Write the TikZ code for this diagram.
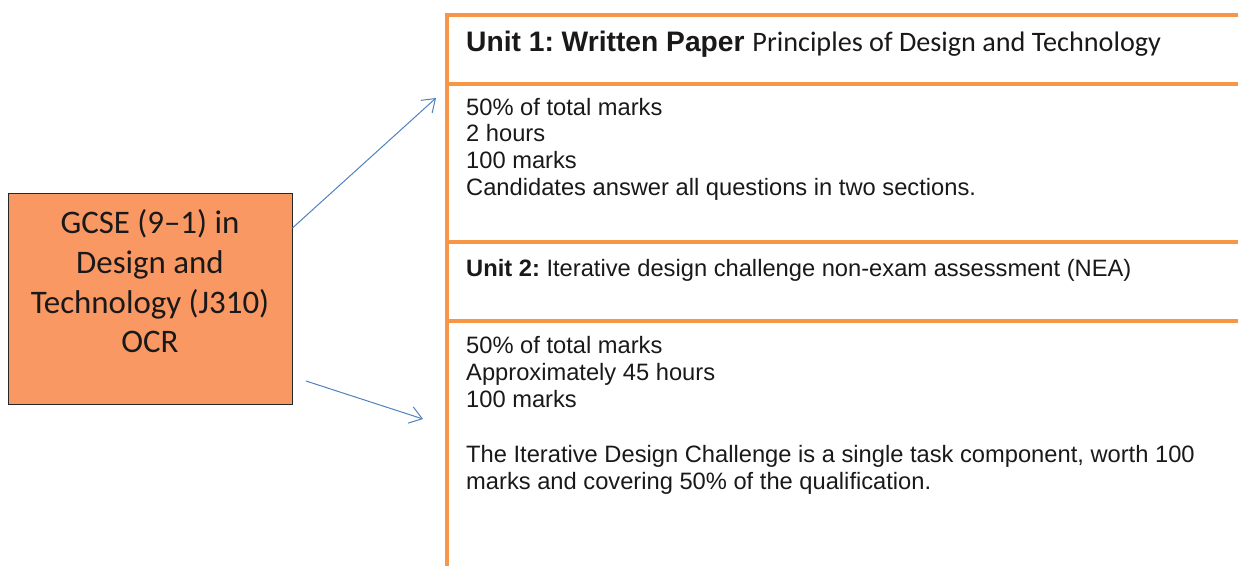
\documentclass[tikz,border=0pt]{standalone}
\usepackage{fontspec}
\setmainfont{Liberation Sans}
\newfontfamily\calib{Carlito}
\usetikzlibrary{arrows.meta}
\frenchspacing
\definecolor{orln}{HTML}{F79646}
\definecolor{boxfill}{RGB}{250,152,100}
\definecolor{arrblue}{HTML}{4F81BD}
\definecolor{txt}{RGB}{25,25,25}
\tikzset{
  frame/.style={draw=orln, line width=4pt},
  mainbox/.style={draw=black!85, line width=0.9pt, fill=boxfill, minimum width=284pt, minimum height=211pt, inner sep=0pt},
  conn/.style={draw=arrblue, line width=1pt, -{Straight Barb[length=12pt,width=17pt,line width=1pt]}},
  body/.style={anchor=base west, inner sep=0pt, text=txt, font=\fontsize{23.7}{26.7}\selectfont},
  gtext/.style={inner sep=0pt, anchor=base, text=txt, font=\calib\fontsize{32.9}{40}\selectfont},
}
\begin{document}
\begin{tikzpicture}[x=1pt,y=-1pt]
\useasboundingbox (0,0) rectangle (1238,566);
% frame
\draw[frame] (445,15) -- (1238,15);
\draw[frame] (447,13) -- (447,566);
\draw[frame] (447,84) -- (1238,84);
\draw[frame] (447,242) -- (1238,242);
\draw[frame] (447,321) -- (1238,321);
% main box
\node[mainbox] (gcse) at (150,298.5) {};
\node[gtext] (g1) at (150,233) {GCSE (9–1) in};
\node[gtext] (g2) at (150,273) {Design and};
\node[gtext] (g3) at (150,313) {Technology (J310)};
\node[gtext] (g4) at (150,352) {OCR};
% unit 1
\node[anchor=base west, inner sep=0pt, text=txt] (u1) at (466,51) {\fontsize{28.2}{32}\selectfont\bfseries Unit 1: Written Paper {\calib\mdseries\fontsize{28.2}{32}\selectfont Principles of Design and Technology}};
\node[body] (a1) at (466,115) {50\% of total marks};
\node[body] (a2) at (466,141) {2 hours};
\node[body] (a3) at (466,168) {100 marks};
\node[body] (a4) at (466,195) {Candidates answer all questions in two sections.};
% unit 2
\node[body] (u2) at (466,276) {\textbf{Unit 2:} Iterative design challenge non-exam assessment (NEA)};
\node[body] (b1) at (466,353) {50\% of total marks};
\node[body] (b2) at (466,380) {Approximately 45 hours};
\node[body] (b3) at (466,407) {100 marks};
\node[body] (b4) at (466,462) {The Iterative Design Challenge is a single task component, worth 100};
\node[body] (b5) at (466,489) {marks and covering 50\% of the qualification.};
% arrows
\coordinate (e1) at (436,98);
\coordinate (s2) at (306,381);
\coordinate (e2) at (423,419);
\draw[conn] (gcse.east |- 0,228) -- (e1);
\draw[conn] (s2) -- (e2);
\end{tikzpicture}
\end{document}
